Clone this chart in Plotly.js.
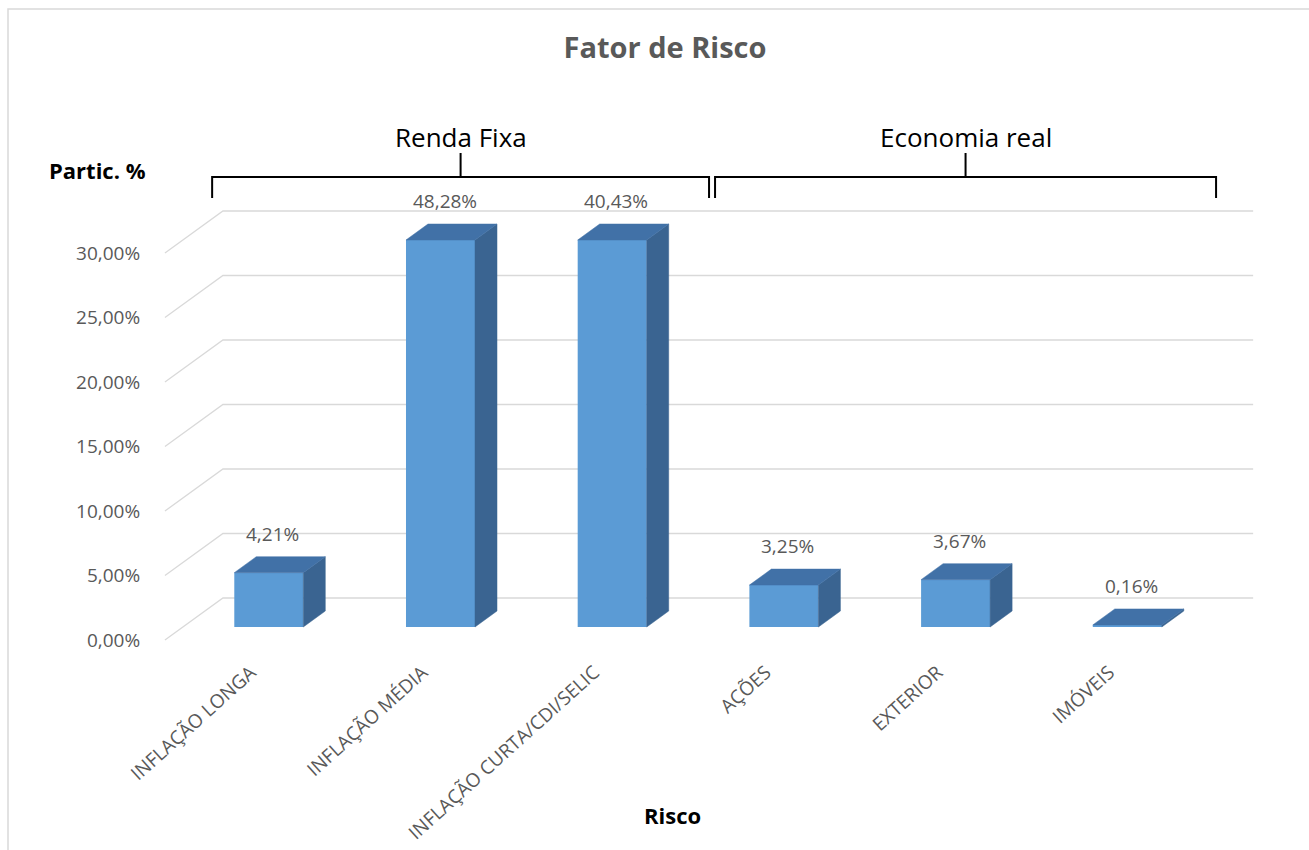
<!DOCTYPE html>
<html>
<head>
<meta charset="utf-8">
<script src="https://cdn.plot.ly/plotly-3.0.1.min.js"></script>
<style>
  html, body { margin: 0; padding: 0; background: #ffffff; }
  #chart { width: 1309px; height: 850px; }
</style>
</head>
<body>
<div id="chart"></div>
<script>
// ---------------- data ----------------
const categories = ['INFLAÇÃO LONGA', 'INFLAÇÃO MÉDIA', 'INFLAÇÃO CURTA/CDI/SELIC', 'AÇÕES', 'EXTERIOR', 'IMÓVEIS'];
const values = [4.21, 48.28, 40.43, 3.25, 3.67, 0.16];
const yTicks = [0, 5, 10, 15, 20, 25, 30];
const groupLabels = ['Renda Fixa', 'Economia real'];
const groupStart = [0, 3];
const groupEnd = [2, 5];

// ---------------- geometry / style ----------------
const W = 1309, H = 850;
const M = { l: 160, r: 49, t: 200, b: 205 };
const PX_X = 171.7;            // pixels per category
const PX_Y = 12.9;             // pixels per 1 %
const X0PIX = 268.8;           // pixel of category 0 (bar front plane)
const Y0PIX = 627;             // pixel of 0 % (bar front plane)
const AXIS_MAX = 30;
const BAR_W = 0.402;

const plotL = M.l, plotR = W - M.r, plotT = M.t, plotB = H - M.b;
const xRange = [(plotL - X0PIX) / PX_X, (plotR - X0PIX) / PX_X];
const yRange = [(Y0PIX - plotB) / PX_Y, (Y0PIX - plotT) / PX_Y];

// depth offsets (pixels) relative to the bar front plane
const off = (dxp, dyp) => [dxp / PX_X, -dyp / PX_Y];
const LABEL_PLANE = off(-18, 13);
const BAR_DEPTH = off(22, -16);
const WALL = off(40, -29);

const px2paperX = p => (p - plotL) / (plotR - plotL);
const px2paperY = p => (plotB - p) / (plotB - plotT);

const FRONT = '#5B9BD5', SIDE = '#3A6491', TOP = '#4171A7';
const GRID = '#D9D9D9', TXT = '#595959';
const FONT = 'Open Sans, Noto Sans, sans-serif';

const xIdx = categories.map((_, i) => i);
const shown = values.map(v => Math.min(v, AXIS_MAX));
const fmt = v => v.toFixed(2).replace('.', ',') + '%';

// side and top faces, built from the data
const sideX = [], sideY = [], topX = [], topY = [];
xIdx.forEach((i, k) => {
  const h = shown[k];
  const xr = i + BAR_W / 2, xl = i - BAR_W / 2;
  const [dx, dy] = BAR_DEPTH;
  sideX.push(xr, xr + dx, xr + dx, xr, xr, null);
  sideY.push(0, dy, h + dy, h, 0, null);
  topX.push(xl, xl + dx, xr + dx, xr, xl, null);
  topY.push(h, h + dy, h + dy, h, h, null);
});

const traces = [
  {
    type: 'bar', x: xIdx, y: shown, width: BAR_W,
    marker: { color: FRONT, line: { width: 0 } },
    hoverinfo: 'skip', showlegend: false
  },
  {
    type: 'scatter', mode: 'lines', x: sideX, y: sideY, fill: 'toself',
    fillcolor: SIDE, line: { color: SIDE, width: 0.5 },
    hoverinfo: 'skip', showlegend: false
  },
  {
    type: 'scatter', mode: 'lines', x: topX, y: topY, fill: 'toself',
    fillcolor: TOP, line: { color: TOP, width: 0.5 },
    hoverinfo: 'skip', showlegend: false
  }
];

// back-wall gridlines (with the slanted floor-side segment)
const shapes = yTicks.map(t => {
  const a = [-0.5 + LABEL_PLANE[0], t + LABEL_PLANE[1]];
  const b = [-0.5 + WALL[0], t + WALL[1]];
  const c = [categories.length - 0.5 + WALL[0], t + WALL[1]];
  return {
    type: 'path', xref: 'x', yref: 'y', layer: 'below',
    path: `M ${a[0]},${a[1]} L ${b[0]},${b[1]} L ${c[0]},${c[1]}`,
    line: { color: GRID, width: 1.3 }
  };
});

// group brackets
const bracketX = [[-0.33, 2.564], [2.599, 5.517]];
const brY = px2paperY(177), brEnd = px2paperY(198), brTop = px2paperY(153), lblY = px2paperY(137);
const annotations = [];
groupLabels.forEach((g, k) => {
  const [x0, x1] = bracketX[k];
  const xm = (x0 + x1) / 2;
  shapes.push({
    type: 'path', xref: 'x', yref: 'paper', layer: 'above',
    path: `M ${x0},${brEnd} L ${x0},${brY} L ${x1},${brY} L ${x1},${brEnd} M ${xm},${brY} L ${xm},${brTop}`,
    line: { color: '#000000', width: 2 }
  });
  annotations.push({
    xref: 'x', yref: 'paper', x: xm, y: lblY, text: g, showarrow: false,
    xanchor: 'center', yanchor: 'middle',
    font: { family: FONT, size: 26, color: '#000000' }
  });
});

// chart border
shapes.push({
  type: 'rect', xref: 'paper', yref: 'paper', layer: 'below',
  x0: px2paperX(8), x1: px2paperX(1330), y0: px2paperY(870), y1: px2paperY(9),
  line: { color: GRID, width: 1.5 }, fillcolor: 'rgba(0,0,0,0)'
});

// data labels
xIdx.forEach((i, k) => {
  annotations.push({
    xref: 'x', yref: 'y', x: i, y: shown[k], yshift: 39, xshift: 4,
    text: fmt(values[k]), showarrow: false, xanchor: 'center', yanchor: 'middle',
    font: { family: FONT, size: 19, color: TXT }
  });
});

annotations.push({
  xref: 'paper', yref: 'paper', x: px2paperX(97), y: px2paperY(170),
  text: '<b>Partic. %</b>', showarrow: false, xanchor: 'center', yanchor: 'middle',
  font: { family: FONT, size: 22, color: '#000000' }
});
annotations.push({
  xref: 'paper', yref: 'paper', x: px2paperX(672), y: px2paperY(815),
  text: '<b>Risco</b>', showarrow: false, xanchor: 'center', yanchor: 'middle',
  font: { family: FONT, size: 22, color: '#000000' }
});

const layout = {
  width: W, height: H,
  margin: M,
  paper_bgcolor: '#ffffff', plot_bgcolor: 'rgba(0,0,0,0)',
  separators: ',.',
  showlegend: false,
  title: {
    text: '<b>Fator de Risco</b>', x: 665 / W, xanchor: 'center',
    y: 1 - 48 / H, yanchor: 'middle', yref: 'container',
    font: { family: FONT, size: 29, color: TXT }
  },
  xaxis: {
    range: xRange, showgrid: false, zeroline: false, showline: false,
    tickmode: 'array', tickvals: xIdx.map(i => i + LABEL_PLANE[0]), ticktext: categories,
    tickangle: -42,
    ticks: 'outside', ticklen: 8, tickcolor: 'rgba(0,0,0,0)',
    tickfont: { family: FONT, size: 19, color: TXT }, fixedrange: true
  },
  yaxis: {
    range: yRange, showgrid: false, zeroline: false, showline: false,
    tickmode: 'array', tickvals: yTicks.map(t => t + LABEL_PLANE[1]),
    ticktext: yTicks.map(fmt),
    ticks: 'outside', ticklen: 15, tickcolor: 'rgba(0,0,0,0)',
    tickfont: { family: FONT, size: 19, color: TXT }, fixedrange: true
  },
  shapes: shapes,
  annotations: annotations
};

Plotly.newPlot('chart', traces, layout, { displayModeBar: false, staticPlot: true });
</script>
</body>
</html>
